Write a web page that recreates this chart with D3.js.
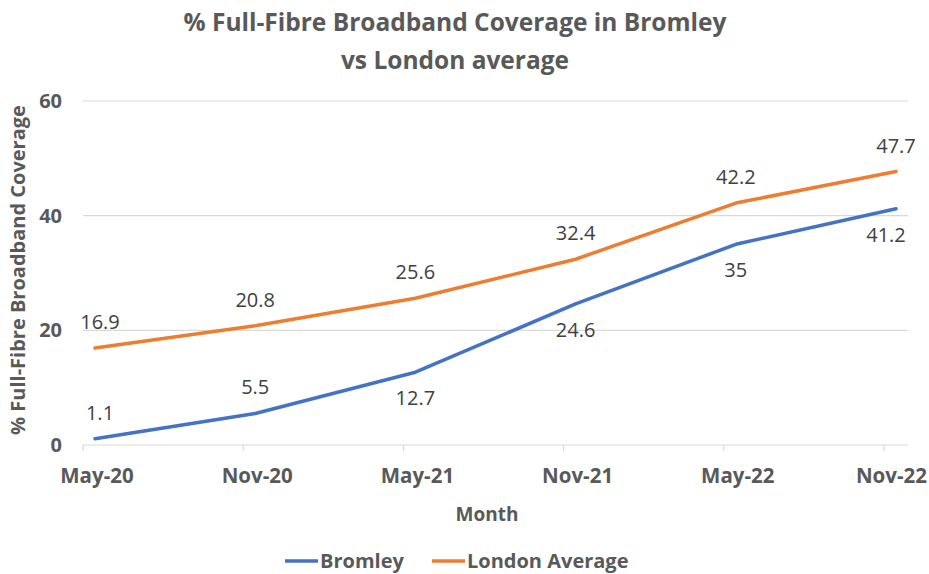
<!DOCTYPE html>
<html lang="en">
<head>
<meta charset="UTF-8">
<title>Full-Fibre Broadband Coverage</title>
<script src="https://d3js.org/d3.v7.min.js"></script>
<style>
  body { margin: 0; background: #fff; }
  text { font-family: "Open Sans", sans-serif; }
</style>
</head>
<body>
<svg id="chart" width="929" height="574"></svg>
<script>
// Chart data
var months = ["May-20", "Nov-20", "May-21", "Nov-21", "May-22", "Nov-22"];
var bromley = [1.1, 5.5, 12.7, 24.6, 35, 41.2];
var london = [16.9, 20.8, 25.6, 32.4, 42.2, 47.7];
var yTicks = [0, 20, 40, 60];

var series = [
  {name: "Bromley", values: bromley, color: "#4472C4", labelPos: ["above", "above", "below", "below", "below", "below"]},
  {name: "London Average", values: london, color: "#ED7D31", labelPos: ["above", "above", "above", "above", "above", "above"]}
];

var svg = d3.select("#chart");
var width = 929;

var x = d3.scalePoint().domain(months).range([95, 896]);
var y = d3.scaleLinear().domain([0, 60]).range([445, 101]);

var root = svg.append("g");

// Title
var title = root.append("text")
  .attr("text-anchor", "middle")
  .attr("fill", "#595959")
  .style("font-weight", "bold")
  .style("font-size", "24.5px");
title.append("tspan").attr("x", 455).attr("y", 31).text("% Full-Fibre Broadband Coverage in Bromley");
title.append("tspan").attr("x", 455).attr("y", 69).text("vs London average");

// Gridlines
root.append("g").selectAll("line")
  .data(yTicks)
  .join("line")
  .attr("x1", 83).attr("x2", 908)
  .attr("y1", function(d) { return y(d); })
  .attr("y2", function(d) { return y(d); })
  .attr("stroke", "#d9d9d9")
  .attr("stroke-width", 1.2);

// Y tick labels
root.append("g").selectAll("text")
  .data(yTicks)
  .join("text")
  .attr("x", 62)
  .attr("y", function(d) { return y(d); })
  .attr("dy", "0.35em")
  .attr("text-anchor", "end")
  .attr("fill", "#595959")
  .style("font-weight", "bold")
  .style("font-size", "20px")
  .text(function(d) { return d; });

// X tick marks
root.append("g").selectAll("line")
  .data(months)
  .join("line")
  .attr("x1", function(d) { return x(d) - 12; })
  .attr("x2", function(d) { return x(d) - 12; })
  .attr("y1", y(0)).attr("y2", y(0) + 6)
  .attr("stroke", "#d9d9d9")
  .attr("stroke-width", 1.2);

// X tick labels (last one pushed to the right edge)
root.append("g").selectAll("text")
  .data(months)
  .join("text")
  .attr("x", function(d, i) { return i === months.length - 1 ? width - 2 : x(d) + 2; })
  .attr("y", 476)
  .attr("dy", "0.35em")
  .attr("text-anchor", function(d, i) { return i === months.length - 1 ? "end" : "middle"; })
  .attr("fill", "#595959")
  .style("font-weight", "bold")
  .style("font-size", "20.5px")
  .text(function(d) { return d; });

// Axis titles
root.append("text")
  .attr("x", 487).attr("y", 514)
  .attr("dy", "0.35em")
  .attr("text-anchor", "middle")
  .attr("fill", "#595959")
  .style("font-weight", "bold")
  .style("font-size", "19px")
  .text("Month");

root.append("text")
  .attr("transform", "translate(18,270) rotate(-90)")
  .attr("dy", "0.35em")
  .attr("text-anchor", "middle")
  .attr("fill", "#595959")
  .style("font-weight", "bold")
  .style("font-size", "20px")
  .text("% Full-Fibre Broadband Coverage");

// Lines
var line = d3.line()
  .x(function(d, i) { return x(months[i]); })
  .y(function(d) { return y(d); });

root.append("g").selectAll("path")
  .data(series)
  .join("path")
  .attr("d", function(s) { return line(s.values); })
  .attr("fill", "none")
  .attr("stroke", function(s) { return s.color; })
  .attr("stroke-width", 3.5)
  .attr("stroke-linejoin", "round")
  .attr("stroke-linecap", "round");

// Data labels
series.forEach(function(s) {
  root.append("g").selectAll("text")
    .data(s.values)
    .join("text")
    .attr("x", function(d, i) { return x(months[i]) + (i === months.length - 1 && s.labelPos[i] === "below" ? -10 : 0) + (i === 0 ? 5 : 0); })
    .attr("y", function(d, i) { return y(d) + (s.labelPos[i] === "above" ? -26 : 26); })
    .attr("dy", "0.35em")
    .attr("text-anchor", "middle")
    .attr("fill", "#404040")
    .style("font-size", "20px")
    .text(function(d) { return d; });
});

// Legend
var legendItems = [
  {name: "Bromley", color: "#4472C4", x: 285},
  {name: "London Average", color: "#ED7D31", x: 432}
];
var legend = root.append("g").selectAll("g")
  .data(legendItems)
  .join("g")
  .attr("transform", function(d) { return "translate(" + d.x + ",561)"; });
legend.append("line")
  .attr("x1", 0).attr("x2", 33)
  .attr("stroke", function(d) { return d.color; })
  .attr("stroke-width", 3.5);
legend.append("text")
  .attr("x", 35)
  .attr("dy", "0.35em")
  .attr("fill", "#595959")
  .style("font-weight", "bold")
  .style("font-size", "20px")
  .text(function(d) { return d.name; });
</script>
</body>
</html>
